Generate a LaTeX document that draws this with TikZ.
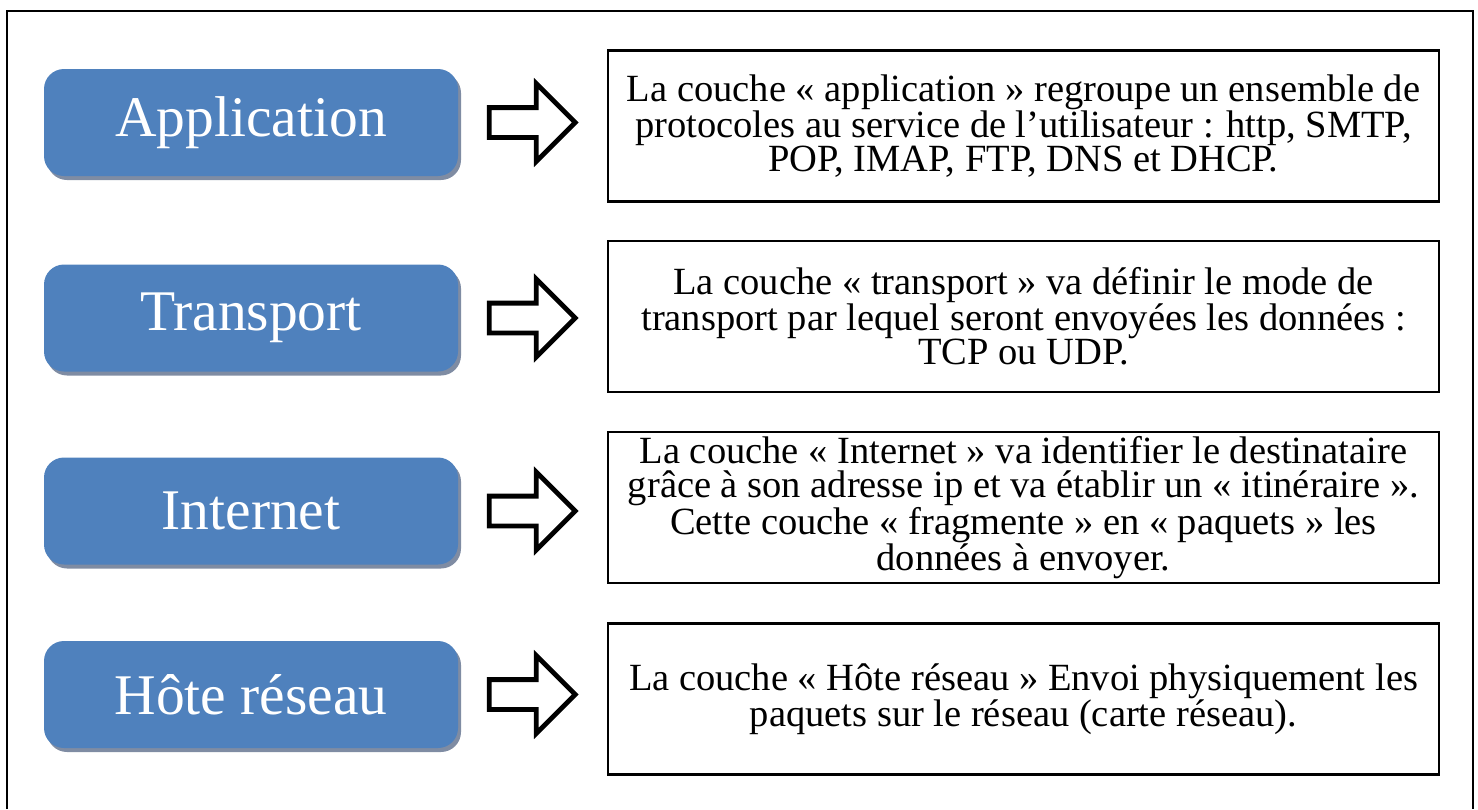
\documentclass[tikz,border=0pt]{standalone}
\usepackage{fontspec}
\setmainfont{Liberation Serif}
\usetikzlibrary{positioning,shapes.arrows,shadows}
\definecolor{layerblue}{HTML}{4F81BD}
\definecolor{layershade}{HTML}{7F8CA3}

\begin{document}
\begin{tikzpicture}[
    x=1pt, y=-1pt,
    layer/.style={fill=layerblue, rounded corners=20pt, minimum width=414pt, minimum height=107pt,
      text=white, font=\fontsize{57.5}{60}\selectfont,
      drop shadow={shadow xshift=3pt, shadow yshift=-4pt, fill=layershade, opacity=1}},
    desc/.style={draw, line width=2.6pt, minimum width=831pt, minimum height=151pt, inner sep=0pt,
      align=center, font=\fontsize{38.5}{34}\selectfont},
    hollow/.style={single arrow, draw, line width=4.8pt, minimum height=86pt, inner xsep=0pt,
      inner ysep=12.5pt, single arrow head extend=24pt, outer sep=0pt},
  ]
    \useasboundingbox (0,0) rectangle (1478,809);
    \draw[line width=2.8pt] (7,809) -- (7,11) -- (1473,11) -- (1473,809);

    \node[layer] (app)   at (251,122.5) {Application};
    \node[layer] (trans) at (251,318)   {Transport};
    \node[layer] (inet)  at (251,511)   {Internet};
    \node[layer] (host)  at (251,694.5) {Hôte réseau};

    \node[hollow, right=31pt of app]   (arrapp)   {};
    \node[hollow, right=31pt of trans] (arrtrans) {};
    \node[hollow, right=31pt of inet]  (arrinet)  {};
    \node[hollow, right=31pt of host]  (arrhost)  {};

    \node[desc] (dapp) at (1023.5,126)
      {La couche «~application~» regroupe un ensemble de\\protocoles au service de l’utilisateur : http, SMTP,\\POP, IMAP, FTP, DNS et DHCP.};
    \node[desc] (dtrans) at (1023.5,316.5)
      {La couche «~transport~» va définir le mode de\\transport par lequel seront envoyées les données :\\TCP ou UDP.};
    \node[desc] (dinet) at (1023.5,507.5)
      {La couche «~Internet~» va identifier le destinataire\\grâce à son adresse ip et va établir un «~itinéraire~».\\Cette couche «~fragmente~» en «~paquets~» les\\données à envoyer.};
    \node[desc] (dhost) at (1023.5,699)
      {La couche «~Hôte réseau~» Envoi physiquement les\\paquets sur le réseau (carte réseau).};
  \end{tikzpicture}
\end{document}
